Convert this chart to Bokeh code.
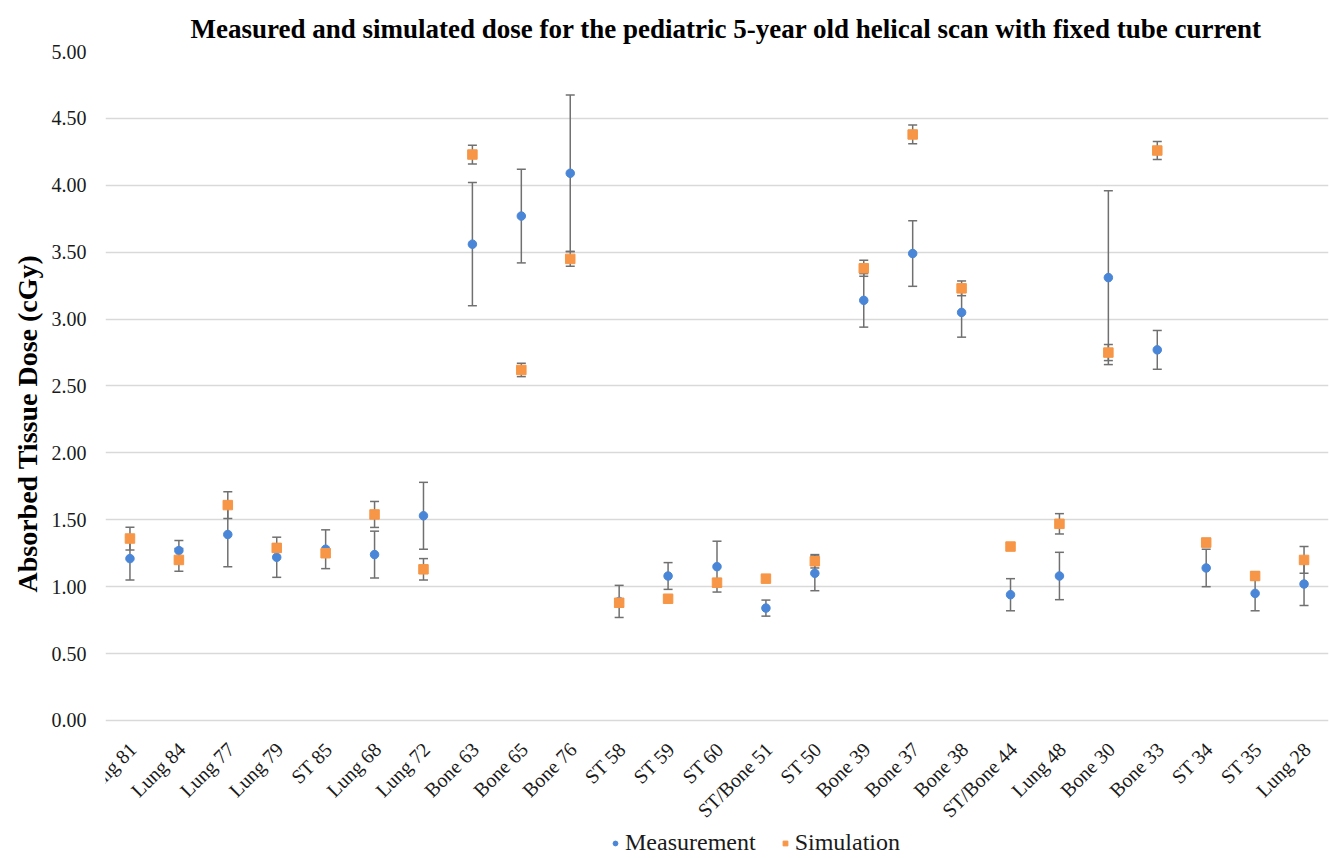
from bokeh.plotting import figure
from bokeh.models import (ColumnDataSource, Whisker, TeeHead, Legend, LegendItem,
                          Range1d, FixedTicker, NumeralTickFormatter, FactorRange, Title)
from bokeh.core.properties import value
from bokeh.embed import file_html
from bokeh.resources import INLINE
import math

categories = ["Lung 81", "Lung 84", "Lung 77", "Lung 79", "ST 85", "Lung 68", "Lung 72",
              "Bone 63", "Bone 65", "Bone 76", "ST 58", "ST 59", "ST 60", "ST/Bone 51",
              "ST 50", "Bone 39", "Bone 37", "Bone 38", "ST/Bone 44", "Lung 48",
              "Bone 30", "Bone 33", "ST 34", "ST 35", "Lung 28"]
measurement = [1.21, 1.27, 1.39, 1.22, 1.28, 1.24, 1.53, 3.56, 3.77, 4.09, 0.89, 1.08,
               1.15, 0.84, 1.10, 3.14, 3.49, 3.05, 0.94, 1.08, 3.31, 2.77, 1.14, 0.95, 1.02]
measurement_err = [0.16, 0.075, 0.24, 0.15, 0.145, 0.175, 0.25, 0.46, 0.35, 0.585, 0.12, 0.10,
                   0.19, 0.06, 0.13, 0.20, 0.245, 0.185, 0.12, 0.177, 0.65, 0.145, 0.14, 0.13, 0.16]
simulation = [1.36, 1.20, 1.61, 1.29, 1.25, 1.54, 1.13, 4.23, 2.62, 3.45, 0.88, 0.91,
              1.03, 1.06, 1.19, 3.38, 4.38, 3.23, 1.30, 1.47, 2.75, 4.26, 1.33, 1.08, 1.20]
simulation_err = [0.085, 0.085, 0.10, 0.03, 0.03, 0.097, 0.08, 0.07, 0.05, 0.055, 0.03, 0.02,
                  0.03, 0.02, 0.05, 0.06, 0.07, 0.055, 0.02, 0.076, 0.06, 0.067, 0.03, 0.03, 0.10]
y_ticks = [0, 0.5, 1.0, 1.5, 2.0, 2.5, 3.0, 3.5, 4.0, 4.5, 5.0]

SERIF = "Liberation Serif"
BLUE = "#4A86D8"
ORANGE = "#F79646"
ERR = "#707070"

ms = ColumnDataSource(dict(
    x=categories, y=measurement,
    lo=[v - e for v, e in zip(measurement, measurement_err)],
    hi=[v + e for v, e in zip(measurement, measurement_err)]))
ss = ColumnDataSource(dict(
    x=categories, y=simulation,
    lo=[v - e for v, e in zip(simulation, simulation_err)],
    hi=[v + e for v, e in zip(simulation, simulation_err)]))

# The frame reaches the bottom of the page, so the category labels and the
# legend are drawn inside it (below the 0.00 line), where nothing can clip them.
p = figure(frame_width=1223, frame_height=807, output_backend="svg", toolbar_location=None,
           x_range=FactorRange(*categories, range_padding=0),
           y_range=Range1d(-1.0314, 5.0),
           min_border_left=105, min_border_right=1, min_border_top=51, min_border_bottom=0)
p.outline_line_color = None
p.background_fill_color = "white"

main_title = Title(text="Measured and simulated dose for the pediatric 5-year old helical scan with fixed tube current",
                   align="left", offset=85, standoff=16,
                   text_font=SERIF, text_font_size="27px", text_font_style="bold",
                   text_color="#000000")
p.add_layout(main_title, "above")

p.xaxis.visible = False
p.xgrid.grid_line_color = None
p.ygrid.grid_line_color = "#D9D9D9"
p.ygrid.grid_line_width = 1.3
p.yaxis.ticker = FixedTicker(ticks=y_ticks)
p.yaxis.formatter = NumeralTickFormatter(format="0.00")
p.yaxis.axis_line_color = None
p.yaxis.major_tick_line_color = None
p.yaxis.minor_tick_line_color = None
p.yaxis.major_tick_out = 0
p.yaxis.major_tick_in = 0
p.yaxis.major_label_text_font = SERIF
p.yaxis.major_label_text_font_size = "20px"
p.yaxis.major_label_text_color = "#1a1a1a"
p.yaxis.major_label_standoff = 19

# y-axis title as a left-side title, starting where the reference's does
ytitle = Title(text="Absorbed Tissue Dose (cGy)", align="left", offset=266,
               text_font=SERIF, text_font_size="28px", text_font_style="bold",
               text_color="#000000", standoff=12)
p.add_layout(ytitle, "left")

# rotated category labels
p.text(x=categories, y=[-0.19] * len(categories), text=categories, angle=math.pi / 4,
       x_offset=3, text_align="right", text_baseline="middle",
       text_font=value(SERIF), text_font_size="20px", text_color="#1a1a1a")

wm = Whisker(source=ms, base="x", upper="hi", lower="lo", line_color=ERR, line_width=1.5,
             upper_head=TeeHead(size=9, line_color=ERR, line_width=1.5),
             lower_head=TeeHead(size=9, line_color=ERR, line_width=1.5))
p.add_layout(wm)
r_m = p.scatter("x", "y", source=ms, marker="circle", size=8.5, fill_color=BLUE, line_color=BLUE)
ws = Whisker(source=ss, base="x", upper="hi", lower="lo", line_color=ERR, line_width=1.5,
             upper_head=TeeHead(size=9, line_color=ERR, line_width=1.5),
             lower_head=TeeHead(size=9, line_color=ERR, line_width=1.5))
p.add_layout(ws)
r_s = p.scatter("x", "y", source=ss, marker="square", size=9.5, fill_color=ORANGE, line_color=ORANGE)

legend = Legend(items=[LegendItem(label="Measurement", renderers=[r_m]),
                       LegendItem(label="Simulation", renderers=[r_s])],
                orientation="horizontal", location=(504, 2),
                label_text_font=SERIF, label_text_font_size="24px", label_text_color="#1a1a1a",
                glyph_width=12, glyph_height=12, label_standoff=4, spacing=23, padding=0, margin=0,
                border_line_color=None, background_fill_alpha=0)
p.add_layout(legend, "center")

open("out.html", "w").write(file_html(p, INLINE))
